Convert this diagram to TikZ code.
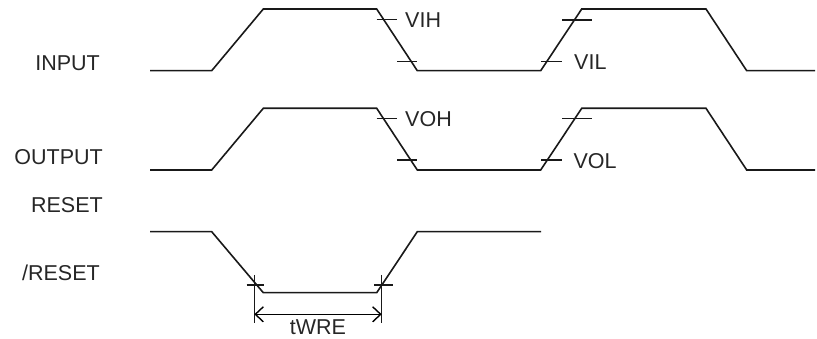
\documentclass[tikz,border=0pt]{standalone}
\usepackage{fontspec}
\setmainfont{Liberation Sans}
\usetikzlibrary{arrows.meta}
\begin{document}
\begin{tikzpicture}[x=1pt,y=-1pt,
  wave/.style={line width=1.6pt,line join=miter,color=black!90},
  tick/.style={line width=1.4pt,color=black!90},
  lbl/.style={inner sep=0pt,font=\fontsize{21.5}{24}\selectfont,text=black!85},
  dim/.style={line width=1.4pt,{Straight Barb[length=8pt,width=15pt,line width=1.4pt]}-{Straight Barb[length=8pt,width=15pt,line width=1.4pt]}}]
\useasboundingbox (0,0) rectangle (817,339);
% signal names
\node[lbl,anchor=base east] (inlbl) at (100,71) {INPUT};
\node[lbl,anchor=base east] (outlbl) at (103,164.3) {OUTPUT};
\node[lbl,anchor=base east] (rstlbl) at (103,212.3) {RESET};
\node[lbl,anchor=base east] (nrstlbl) at (100,280) {/RESET};
% INPUT waveform
\draw[wave] (150,70.7) -- (211.7,70.7) -- (263.3,9) -- (376.7,9) -- (417.3,70.7)
  -- (540.7,70.7) -- (581.7,9) -- (706,9) -- (746.7,70.7) -- (815,70.7);
\draw[tick] (376.7,19.7) -- (396.7,19.7);
\draw[tick] (397,61.3) -- (417.3,61.3);
\draw[tick] (562.3,20) -- (592.3,20);
\draw[tick] (541,61.3) -- (561.7,61.3);
\node[lbl,anchor=base west] (vih) at (405,27.5) {VIH};
\node[lbl,anchor=base west] (vil) at (574,69.3) {VIL};
% OUTPUT waveform
\draw[wave] (150,170) -- (211.7,170) -- (263.3,108.3) -- (376.7,108.3) -- (417.3,170)
  -- (540.7,170) -- (581.7,108.3) -- (706,108.3) -- (746.7,170) -- (815,170);
\draw[tick] (376.7,118.3) -- (396.7,118.3);
\draw[tick] (397,160) -- (417.3,160);
\draw[tick] (562.3,118.3) -- (592.3,118.3);
\draw[tick] (541,160) -- (561.7,160);
\node[lbl,anchor=base west] (voh) at (405,126.5) {VOH};
\node[lbl,anchor=base west] (vol) at (573.3,168.3) {VOL};
% /RESET waveform
\draw[wave] (150,231.7) -- (211.7,231.7) -- (263.3,292.7) -- (376.7,292.7) -- (417.3,231.7) -- (541,231.7);
\coordinate (tl) at (254.3,314.3);
\coordinate (tr) at (381.7,314.3);
\draw[tick] (254.3,275) -- (254.3,322.7);
\draw[tick] (381.7,275) -- (381.7,322.7);
\draw[tick] (246.7,285) -- (264.3,285);
\draw[tick] (374,285) -- (393.3,285);
\draw[dim] (tl) -- (tr);
\node[lbl,anchor=base] (twre) at (318,334.5) {tWRE};
\end{tikzpicture}
\end{document}
